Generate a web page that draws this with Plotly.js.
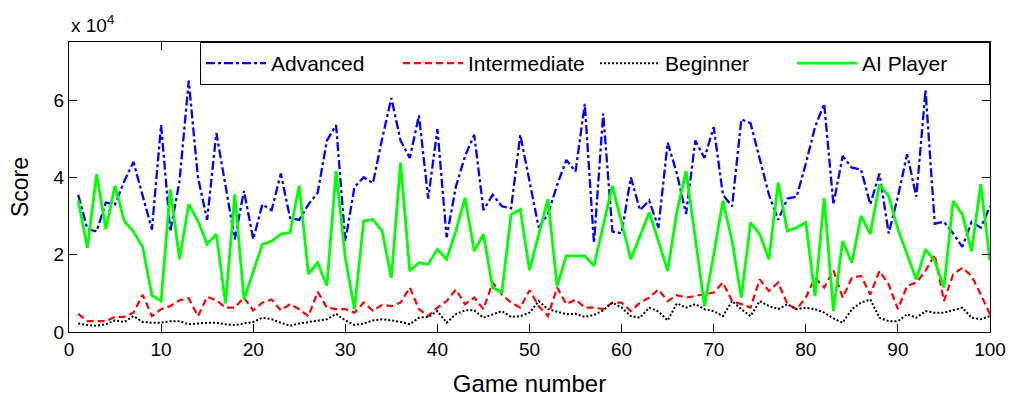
<!DOCTYPE html>
<html>
<head>
<meta charset="utf-8">
<script src="https://cdn.plot.ly/plotly-3.0.1.min.js"></script>
<style>
  html, body { margin: 0; padding: 0; background: #ffffff; }
  #chart { width: 1011px; height: 404px; }
</style>
</head>
<body>
<div id="chart"></div>
<script>
// Game numbers
const games = Array.from({length: 100}, (_, i) => i + 1);

// Scores (raw score units)
const advanced = [
  35500, 26600, 26000, 33500, 33000, 39000, 44000, 35000, 26500, 53500,
  26000, 39000, 65000, 40000, 29000, 51500, 38000, 24000, 36500, 24000,
  33000, 31500, 41000, 29500, 29000, 33000, 36000, 49500, 53500, 23500,
  37500, 40000, 38500, 50000, 60500, 49500, 45000, 56000, 34500, 52500,
  24500, 37500, 45500, 51000, 31500, 35500, 32500, 32000, 51000, 38500,
  27000, 30500, 38000, 44500, 41500, 59000, 23000, 56500, 26000, 25500,
  40000, 31500, 34000, 27000, 49000, 41000, 30500, 49500, 45000, 53000,
  35500, 32500, 55000, 54000, 45000, 35500, 29000, 34500, 35000, 43500,
  53000, 59000, 33000, 45500, 42500, 42000, 33000, 41000, 25500, 35000,
  46000, 35000, 62500, 28000, 28500, 25500, 22000, 28500, 27000, 32500
];
const intermediate = [
  4700, 2800, 2800, 2800, 3900, 3900, 5000, 9600, 4100, 5900,
  6700, 8200, 8700, 4100, 9100, 8200, 6300, 6300, 8900, 5600,
  7600, 8400, 5600, 7200, 5900, 4100, 10400, 6300, 5900, 5900,
  5000, 7600, 5500, 7000, 6700, 7600, 11500, 5900, 4100, 6300,
  8000, 11000, 7200, 8900, 5900, 12800, 9700, 7600, 6300, 10800,
  6700, 4100, 11500, 7200, 8400, 6300, 6300, 5900, 7600, 7600,
  5400, 7600, 8900, 11000, 8000, 9500, 8900, 9300, 9700, 10200,
  12800, 8000, 7200, 6300, 13600, 10600, 12800, 7200, 5900, 8900,
  14000, 11500, 16000, 8900, 14000, 14500, 9700, 15800, 12300, 5900,
  11900, 12800, 15800, 20000, 8000, 14900, 16600, 14500, 9700, 4600
];
const beginner = [
  2200, 1800, 1600, 2000, 3000, 2600, 4100, 2600, 2400, 2400,
  2800, 2800, 2000, 2200, 2400, 2400, 2000, 1800, 2200, 2600,
  3700, 3300, 2400, 1600, 2200, 2600, 2800, 3300, 4700, 3000,
  1800, 2200, 3000, 3300, 3000, 2600, 2000, 3700, 3900, 5400,
  2400, 4600, 5600, 5600, 3700, 4600, 5400, 3900, 4100, 5000,
  8000, 5900, 5300, 4600, 4700, 3900, 4400, 5600, 7600, 6300,
  4100, 3700, 6300, 5300, 3000, 7400, 6300, 7200, 5900, 5400,
  4100, 8000, 5900, 4100, 8000, 6700, 5900, 7200, 5900, 6300,
  5900, 5000, 3500, 2400, 5900, 7600, 8400, 3700, 2800, 2800,
  4600, 3700, 5400, 5000, 5000, 5600, 6300, 3700, 3300, 4100
];
const aiPlayer = [
  34000, 21800, 40800, 26600, 37800, 28700, 26000, 22000, 9500, 8000,
  36900, 18800, 33000, 28700, 22700, 25300, 7400, 35600, 8400, 15500,
  22700, 23500, 25300, 25700, 37800, 15000, 17900, 12000, 41600, 19200,
  5900, 28700, 29100, 26100, 14000, 43800, 15800, 17900, 17500, 21400,
  18800, 26100, 34700, 20900, 25300, 11500, 10200, 30400, 31700, 16000,
  25300, 34300, 11900, 19700, 19700, 19700, 17100, 27400, 37800, 28300,
  18800, 24800, 30900, 23500, 15800, 31000, 41600, 24400, 6700, 20000,
  33900, 23500, 8900, 28300, 25300, 18800, 38600, 26100, 27000, 28300,
  9300, 34700, 5400, 23500, 17900, 30000, 25300, 38200, 35200, 26600,
  20000, 13600, 21400, 18400, 11500, 33900, 30400, 20900, 38200, 18400
];

const seriesNames = ['Advanced', 'Intermediate', 'Beginner', 'AI Player'];
const yTickVals = [0, 20000, 40000, 60000];
const yTickText = ['0', '2', '4', '6'];
const xTickVals = [0, 10, 20, 30, 40, 50, 60, 70, 80, 90, 100];

const FONT = 'Liberation Sans, Arial, sans-serif';

const traces = [
  {x: games, y: advanced, name: seriesNames[0], type: 'scatter', mode: 'lines',
   line: {color: '#0000FF', width: 2.3, dash: '9px,3px,3px,3px'}},
  {x: games, y: intermediate, name: seriesNames[1], type: 'scatter', mode: 'lines',
   line: {color: '#FF0000', width: 2.2, dash: '7px,4px'}},
  {x: games, y: beginner, name: seriesNames[2], type: 'scatter', mode: 'lines',
   line: {color: '#000000', width: 2, dash: '2px,2px'}},
  {x: games, y: aiPlayer, name: seriesNames[3], type: 'scatter', mode: 'lines',
   line: {color: '#00FF00', width: 2.8}}
];

const layout = {
  width: 1011, height: 404,
  margin: {l: 69, r: 21, t: 42, b: 72},
  paper_bgcolor: '#ffffff', plot_bgcolor: '#ffffff',
  font: {family: FONT, size: 18, color: '#000000'},
  showlegend: true,
  legend: {
    orientation: 'h', x: 1, xanchor: 'right', y: 1, yanchor: 'top',
    bgcolor: '#ffffff', bordercolor: '#000000', borderwidth: 1,
    font: {family: FONT, size: 21, color: '#000000'},
    itemwidth: 60, entrywidth: 122, traceorder: 'normal'
  },
  xaxis: {
    range: [0, 100], tickvals: xTickVals, ticks: 'inside', ticklen: 8,
    tickcolor: '#000000', showline: true, linecolor: '#000000', linewidth: 1,
    mirror: 'allticks', showgrid: false, zeroline: false,
    tickfont: {family: FONT, size: 19, color: '#000000'},
    title: {text: 'Game number', font: {family: FONT, size: 24, color: '#000000'}, standoff: 16}
  },
  yaxis: {
    range: [0, 75000], tickvals: yTickVals, ticktext: yTickText, ticks: 'inside', ticklen: 8,
    tickcolor: '#000000', showline: true, linecolor: '#000000', linewidth: 1,
    mirror: 'allticks', showgrid: false, zeroline: false,
    tickfont: {family: FONT, size: 19, color: '#000000'},
    title: {text: 'Score', font: {family: FONT, size: 23, color: '#000000'}, standoff: 18}
  },
  annotations: [{
    text: 'x 10<sup>4</sup>', xref: 'paper', yref: 'paper', x: 0, y: 1,
    xanchor: 'left', yanchor: 'bottom', yshift: 4, showarrow: false,
    font: {family: FONT, size: 19, color: '#000000'}
  }]
};

Plotly.newPlot('chart', traces, layout, {displayModeBar: false, staticPlot: true});
</script>
</body>
</html>
